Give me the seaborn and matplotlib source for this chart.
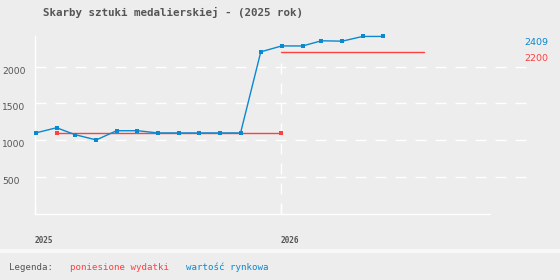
import matplotlib
matplotlib.use("Agg")
import matplotlib.pyplot as plt
import matplotlib.transforms as mtransforms
import seaborn as sns
import pandas as pd
import numpy as np

# ---- data ----
market_dates = ["2025-01-02", "2025-02-02", "2025-03-02", "2025-04-02", "2025-05-02",
                "2025-06-02", "2025-07-02", "2025-08-02", "2025-09-02", "2025-10-02",
                "2025-11-02", "2025-12-02", "2026-01-02", "2026-02-02", "2026-03-02",
                "2026-04-02", "2026-05-02", "2026-06-02"]
market_values = [1100, 1170, 1075, 1005, 1130, 1130, 1100, 1100, 1100, 1100,
                 1100, 2200, 2280, 2280, 2350, 2345, 2409, 2409]
cost_dates_1 = ["2025-02-02", "2026-01-01"]
cost_values_1 = [1100, 1100]
cost_dates_2 = ["2026-01-01", "2026-08-01"]
cost_values_2 = [2200, 2200]
x_ticks = [2025, 2026]
x_tick_labels = ["2025", "2026"]
y_ticks = [500, 1000, 1500, 2000]
y_tick_labels = ["500", "1000", "1500", "2000"]
title = "Skarby sztuki medalierskiej - (2025 rok)"
legend_label = "Legenda:"
cost_label = "poniesione wydatki"
market_label = "wartość rynkowa"
last_market = "2409"
last_cost = "2200"


def to_year(dates):
    d = pd.to_datetime(pd.Series(dates))
    return (d.dt.year + (d.dt.dayofyear - 1) / 365.0).to_numpy()


BG = "#ededed"
BLUE = "#0a88d0"
RED = "#ff4040"
TXT = "#555555"

sns.set_theme(style="white")
plt.rcParams["font.family"] = ["DejaVu Sans"]

fig = plt.figure(figsize=(5.6, 2.8), dpi=100, facecolor=BG)
W, H = 560, 280
ax = fig.add_axes([35 / W, 1 - 214 / H, (527 - 35) / W, (214 - 36) / H])
ax.set_facecolor(BG)

df_m = pd.DataFrame({"x": to_year(market_dates), "y": market_values})
df_c1 = pd.DataFrame({"x": to_year(cost_dates_1), "y": cost_values_1})
df_c2 = pd.DataFrame({"x": to_year(cost_dates_2), "y": cost_values_2})

ax.set_xlim(2025, 2027.0)
ax.set_ylim(0, 2415)

# grid
dash = (7.9, 6.5)
for v in y_ticks:
    ax.axhline(v, color="white", lw=1, dashes=dash, zorder=1)
ax.vlines([2026], 0, 2060, color="white", lw=1, linestyles=[(0, dash)], zorder=1)

sns.lineplot(data=df_c1, x="x", y="y", color=RED, lw=1, marker="s", markersize=3,
             markeredgewidth=0, ax=ax, zorder=3)
sns.lineplot(data=df_c2, x="x", y="y", color=RED, lw=1, ax=ax, zorder=3)
sns.lineplot(data=df_m, x="x", y="y", color=BLUE, lw=1, marker="s", markersize=3,
             markeredgewidth=0, ax=ax, zorder=4)
for ln in ax.get_lines():
    ln.set_clip_on(False)

for s in ["top", "right", "bottom"]:
    ax.spines[s].set_visible(False)
ax.spines["left"].set_color("white")
ax.spines["left"].set_linewidth(1)
ax.plot([0, (490 - 35) / 492], [0, 0], transform=ax.transAxes, color="white",
        lw=1, clip_on=False, zorder=2)

ax.set_xlabel("")
ax.set_ylabel("")
ax.set_xticks(x_ticks)
ax.set_xticklabels(x_tick_labels, ha="left", family="DejaVu Sans Mono",
                   fontweight="bold", fontsize=5.6, color=TXT)
ax.tick_params(axis="x", direction="in", length=7.2, width=1, color="white",
               pad=16, bottom=True)
ax.set_yticks(y_ticks)
ax.set_yticklabels(y_tick_labels, ha="left", fontsize=6.6, color=TXT)
ax.tick_params(axis="y", length=0, pad=33 / 1.389)
off = mtransforms.ScaledTranslation(0, -3.5 / 100, fig.dpi_scale_trans)
for lab in ax.get_yticklabels():
    lab.set_transform(lab.get_transform() + off)

# title
fig.text(43 / W, 1 - 12.7 / H, title, family="DejaVu Sans Mono", fontweight="bold",
         fontsize=7.8, color=TXT, va="center", ha="left")

# right labels
fig.text(524 / W, 1 - 42.3 / H, last_market, fontsize=6.8, color=BLUE, va="center")
fig.text(524 / W, 1 - 58.3 / H, last_cost, fontsize=6.8, color=RED, va="center")

# legend band
fig.patches.append(plt.Rectangle((0, 1 - 253 / H), 1, 4 / H, transform=fig.transFigure,
                                 facecolor="#f8f8f8", edgecolor="none", zorder=0))
ly = 1 - 267.3 / H
fig.text(9 / W, ly, legend_label, family="DejaVu Sans Mono", fontsize=6.6, color=TXT, va="center")
fig.text(70 / W, ly, cost_label, family="DejaVu Sans Mono", fontsize=6.6, color=RED, va="center")
fig.text(186 / W, ly, market_label, family="DejaVu Sans Mono", fontsize=6.6, color=BLUE, va="center")

fig.savefig("out.png", dpi=100, facecolor=BG)
